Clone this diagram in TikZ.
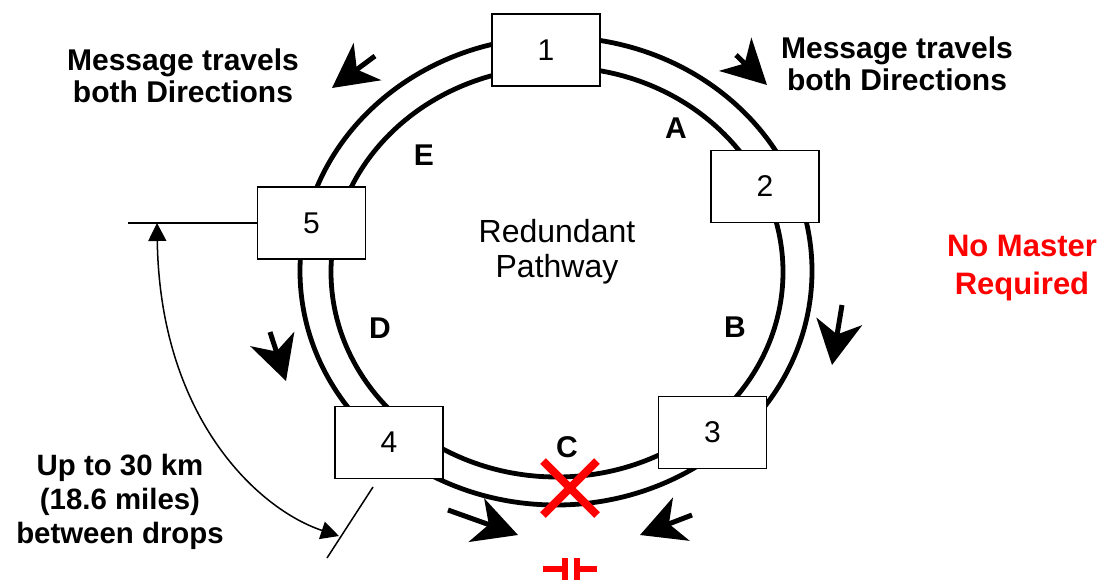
\documentclass[tikz,border=0pt]{standalone}
\usepackage{fontspec}
\setmainfont{Liberation Sans}
\usetikzlibrary{arrows.meta}

\begin{document}
\begin{tikzpicture}[x=0.5pt, y=-0.5pt,
  boxnode/.style={rectangle, draw=black, fill=white, line width=0.75pt, minimum width=54pt, minimum height=36pt, inner sep=0pt, font=\fontsize{15}{17}\selectfont},
  ringline/.style={line width=2.4pt},
  flowarrow/.style={line width=2.5pt, -{Stealth[length=22pt, width=23pt, inset=6.5pt]}},
  boldlabel/.style={align=center, inner sep=0pt, font=\bfseries\fontsize{15}{16}\selectfont},
  thinline/.style={line width=0.75pt},
  dimline/.style={line width=0.75pt, {Triangle[length=9pt, width=9pt]}-{Triangle[length=9pt, width=9pt]}}]
\useasboundingbox (0,0) rectangle (1104,580);
% Ring
\draw[ringline] (556,271) ellipse [x radius=256, y radius=234];
\draw[ringline] (557,272) ellipse [x radius=226, y radius=205];
% Nodes
\node[boxnode] (s1) at (546,50) {1};
\node[boxnode] (s2) at (765,186.5) {2};
\node[boxnode] (s3) at (712.5,432.5) {3};
\node[boxnode] (s4) at (389,442.5) {4};
\node[boxnode] (s5) at (311.5,223) {5};
% Labels
\node[boldlabel] (msgl) at (183,76) {Message travels\\both Directions};
\node[boldlabel] (msgr) at (897,64) {Message travels\\both Directions};
\node[align=center, inner sep=0pt, font=\fontsize{16}{17.5}\selectfont] (path) at (557,252) {Redundant\\Pathway};
\node[boldlabel, text=red, font=\bfseries\fontsize{15.5}{19}\selectfont] (master) at (1022,268) {No Master\\Required};
\node[boldlabel, font=\bfseries\fontsize{14.7}{17}\selectfont] (dist) at (120,502) {Up to 30 km\\(18.6 miles)\\between drops};
\node[boldlabel] (la) at (676,128) {A};
\node[boldlabel] (lb) at (735,327) {B};
\node[boldlabel] (lc) at (567,447) {C};
\node[boldlabel] (ld) at (380,328) {D};
\node[boldlabel] (le) at (424,155) {E};
% Direction arrows
\draw[flowarrow] (375,56) -- (332,88);
\draw[flowarrow] (736,55) -- (767,85);
\draw[flowarrow] (842,305) -- (832,365);
\draw[flowarrow] (270,332) -- (286,381);
\draw[flowarrow] (448,510) -- (518,535);
\draw[flowarrow] (692,515) -- (640,535);
% Distance between drops
\coordinate (linestart) at (128,223);
\coordinate (dimtop) at (157,223);
\coordinate (ticka) at (373,487);
\coordinate (tickb) at (327,558);
\coordinate (dimbot) at (339,536);
\draw[thinline] (linestart) -- (s5.west);
\draw[thinline] (ticka) -- (tickb);
\draw[dimline] (dimtop) .. controls (160,420) and (260,510) .. (dimbot);
% Break
\draw[red, line width=4pt] (543,461) -- (597,515);
\draw[red, line width=4pt] (597,461) -- (543,515);
\draw[red, line width=2.75pt] (543,569) -- (565,569);
\draw[red, line width=2.75pt] (565,558) -- (565,580);
\draw[red, line width=2.75pt] (577,558) -- (577,580);
\draw[red, line width=2.75pt] (577,569) -- (597,569);
\end{tikzpicture}
\end{document}
